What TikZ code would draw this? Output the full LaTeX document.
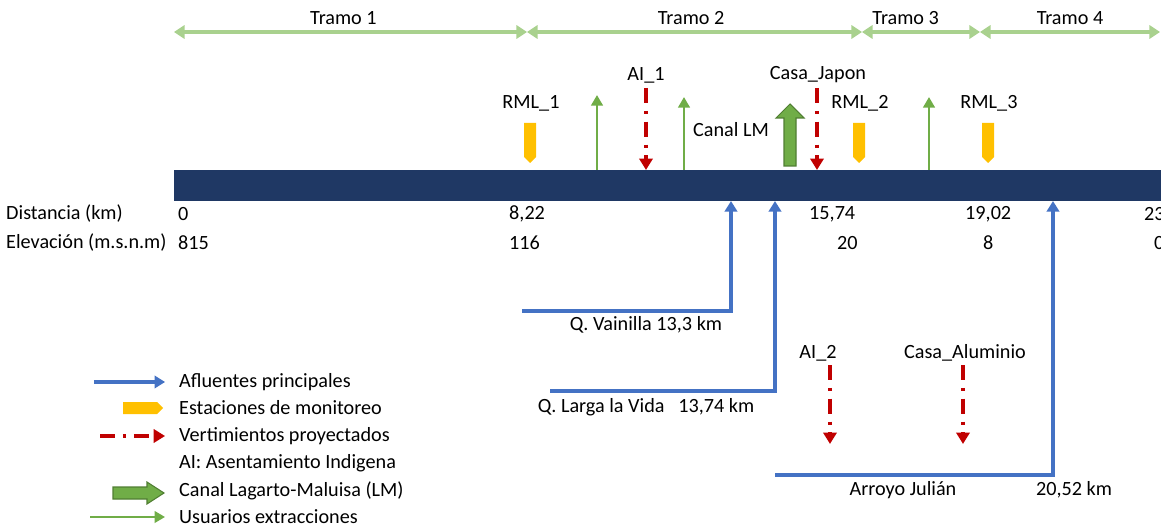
\documentclass[tikz,border=0pt]{standalone}
\usepackage{fontspec}
\setmainfont{Carlito}
\usepackage{tikz}
\usetikzlibrary{arrows.meta}

\definecolor{riocolor}{HTML}{1F3864}
\definecolor{tramoverde}{HTML}{A9D18E}
\definecolor{amarillo}{HTML}{FFC000}
\definecolor{verde}{HTML}{70AD47}
\definecolor{verdeborde}{HTML}{507E32}
\definecolor{rojo}{HTML}{C00000}
\definecolor{azul}{HTML}{4472C4}

\begin{document}
\begin{tikzpicture}[x=0.02cm, y=-0.02cm,
    every node/.style={font=\fontsize{11.5}{13}\selectfont},
    tramo/.style={draw=tramoverde, line width=2.1pt,
      {Triangle[length=6pt,width=7.5pt]}-{Triangle[length=6pt,width=7.5pt]}},
    riobar/.style={fill=riocolor, inner sep=0pt, outer sep=0pt},
    estacion/.style={fill=amarillo},
    usuario/.style={draw=verde, line width=1.5pt, -{Triangle[length=6pt,width=6.5pt]}},
    vert/.style={draw=rojo, line width=2pt, dash pattern=on 8.5pt off 4.5pt on 1.7pt off 4.5pt,
      -{Triangle[length=6.5pt,width=7.5pt]}},
    afluente/.style={draw=azul, line width=2pt, -{Triangle[length=6pt,width=7pt]}},
    canalflecha/.style={fill=verde, draw=verdeborde, line width=0.6pt}]

  \useasboundingbox (0,0) rectangle (1161,527);
  \clip (0,0) rectangle (1161,527);

  % tramos
  \coordinate (t0) at (174,32);
  \coordinate (t1) at (527,32);
  \coordinate (t2) at (862,32);
  \coordinate (t3) at (980,32);
  \coordinate (t4) at (1160,32);
  \draw[tramo] (t0) -- node[above, pos=0.48] (tr1) {Tramo 1} (t1);
  \draw[tramo] (t1) -- node[above, pos=0.49] (tr2) {Tramo 2} (t2);
  \draw[tramo] (t2) -- node[above, pos=0.37] (tr3) {Tramo 3} (t3);
  \draw[tramo] (t3) -- node[above, pos=0.5] (tr4) {Tramo 4} (t4);

  % rio
  \node[riobar, minimum width=19.74cm, minimum height=0.62cm] (rio) at (667.5,185.5) {};

  % estaciones de monitoreo
  \node (rml1) at (531,103) {RML\_1};
  \node (rml2) at (860,103) {RML\_2};
  \node (rml3) at (989,103) {RML\_3};
  \foreach \x in {530, 859, 988}
    {
      \fill[estacion] (\x-6,123) -- (\x+6,123) -- (\x+6,157) -- (\x,163) -- (\x-6,157) -- cycle;
    }

  % usuarios extracciones
  \coordinate (u1) at (597,95);
  \coordinate (u2) at (684,97);
  \coordinate (u3) at (929,97);
  \foreach \n in {u1, u2, u3}
    {
      \draw[usuario] (\n |- rio.north) -- (\n);
    }

  % vertimientos
  \node (ai1) at (646,75) {AI\_1};
  \node (japon) at (818,75) {Casa\_Japon};
  \coordinate (v1) at (646,88);
  \coordinate (v2) at (817,88);
  \draw[vert] (v1) -- (v1 |- rio.north);
  \draw[vert] (v2) -- (v2 |- rio.north);

  \node (ai2) at (818,353) {AI\_2};
  \node (alum) at (965,353) {Casa\_Aluminio};
  \coordinate (v3) at (830,365);
  \coordinate (v4) at (963,365);
  \draw[vert] (v3) -- (830,444);
  \draw[vert] (v4) -- (963,444);

  % canal LM
  \node (canal) at (731,130) {Canal LM};
  \filldraw[canalflecha] (784,166) -- (796,166) -- (796,118) -- (804,118) -- (790,104)
    -- (776,118) -- (784,118) -- cycle;

  % afluentes
  \coordinate (qv) at (522,311);
  \coordinate (cqv) at (731,0 |- rio.south);
  \draw[afluente] (qv) -| (cqv);
  \node (lqv) at (646,325) {Q. Vainilla 13,3 km};

  \coordinate (ql) at (550,391);
  \coordinate (cql) at (775,0 |- rio.south);
  \draw[afluente] (ql) -| (cql);
  \node (lql) at (646,407) {Q. Larga la Vida\ \ \ 13,74 km};

  \coordinate (aj) at (775,475);
  \coordinate (caj) at (1053,0 |- rio.south);
  \draw[afluente] (aj) -| (caj);
  \node (laj) at (903,490) {Arroyo Julián};
  \node (kaj) at (1074,490) {20,52 km};

  % distancia y elevacion
  \node[anchor=west] (dist) at (0,214) {Distancia (km)};
  \node[anchor=west] (elev) at (0,243) {Elevación (m.s.n.m)};
  \node[anchor=west] (d0) at (172,214) {0};
  \node[anchor=west] (d1) at (503,214) {8,22};
  \node[anchor=west] (d2) at (803,214) {15,74};
  \node[anchor=west] (d3) at (959,214) {19,02};
  \node[anchor=west] (d4) at (1138,214) {23};
  \node[anchor=west] (e0) at (172,243) {815};
  \node[anchor=west] (e1) at (503,243) {116};
  \node[anchor=west] (e2) at (831,243) {20};
  \node[anchor=west] (e3) at (977,243) {8};
  \node[anchor=west] (e4) at (1148,243) {0};

  % leyenda
  \node[anchor=west] (l1) at (173,382) {Afluentes principales};
  \node[anchor=west] (l2) at (173,408) {Estaciones de monitoreo};
  \node[anchor=west] (l3) at (173,436) {Vertimientos proyectados};
  \node[anchor=west] (l4) at (173,463) {AI: Asentamiento Indigena};
  \node[anchor=west] (l5) at (173,491) {Canal Lagarto-Maluisa (LM)};
  \node[anchor=west] (l6) at (173,517) {Usuarios extracciones};

  \draw[afluente] ([xshift=-45pt]l1.west) -- ([xshift=-4.5pt]l1.west);
  \fill[estacion] (123,402) -- (157,402) -- (163,408) -- (157,414) -- (123,414) -- cycle;
  \draw[vert] ([xshift=-41.5pt]l3.west) -- ([xshift=-4.5pt]l3.west);
  \filldraw[canalflecha] (113,487) -- (147,487) -- (147,482) -- (164,493) -- (147,504)
    -- (147,499) -- (113,499) -- cycle;
  \draw[usuario] ([xshift=-47pt]l6.west) -- ([xshift=-4.5pt]l6.west);
\end{tikzpicture}
\end{document}
